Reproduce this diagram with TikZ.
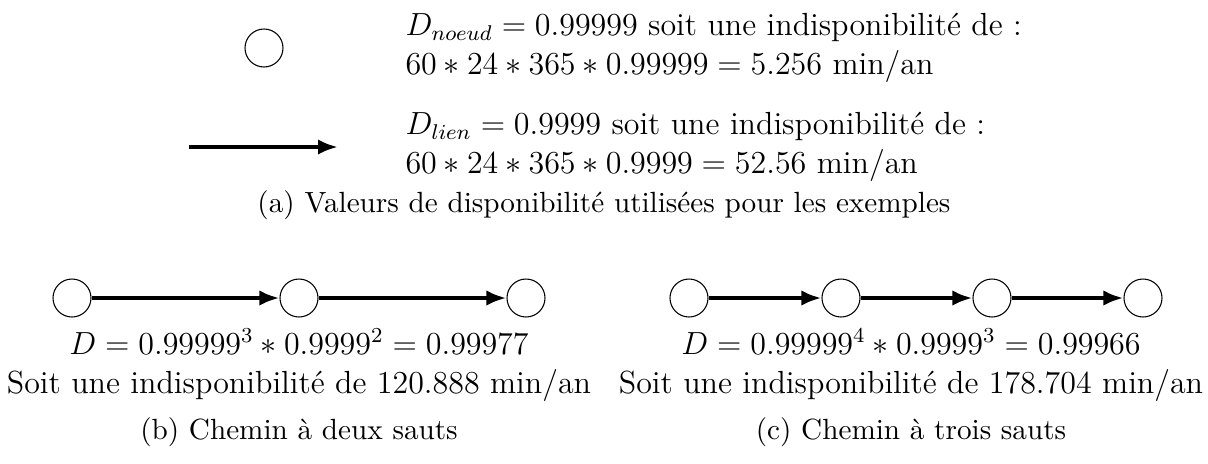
\documentclass[tikz,border=0pt]{standalone}
\usepackage{fontspec}
\usepackage{tikz}
\usetikzlibrary{positioning,arrows.meta}

\begin{document}
\begin{tikzpicture}[x=.375pt,y=-.375pt,font=\fontsize{12}{14.5}\selectfont,
  noeud/.style={draw,circle,line width=.4pt,inner sep=0pt,minimum size=14.25pt},
  lien/.style={-{Latex[length=7.5pt,width=5.8pt]},line width=1.6pt},
  txt/.style={inner sep=0pt,align=left},
  texte/.style={inner sep=0pt,align=center},
  legende/.style={inner sep=0pt,align=center,font=\fontsize{10.95}{13.6}\selectfont}]
\useasboundingbox (0,0) rectangle (1208,463);
% (a) valeurs
\node[noeud] (n) at (264,48){};
\coordinate (l0) at (189,147);\coordinate (l1) at (338,147);
\draw[lien] (l0)--(l1);
\node[txt,anchor=west] (tn) at (405,48){$D_{noeud} = 0.99999$ soit une indisponibilit\'e de :\\$60*24*365*0.99999 = 5.256$ min/an};
\node[txt,anchor=west] (tl) at (405,147){$D_{lien} = 0.9999$ soit une indisponibilit\'e de :\\$60*24*365*0.9999 = 52.56$ min/an};
\node[legende] (ca) at (604,205){(a) Valeurs de disponibilit\'e utilis\'ees pour les exemples};
% (b) deux sauts
\node[noeud] (b1) at (72,298){};\node[noeud] (b2) at (299,298){};\node[noeud] (b3) at (526,298){};
\draw[lien] (b1)--(b2);\draw[lien] (b2)--(b3);
\node[texte] (tb) at (299,365){$D = 0.99999^3 * 0.9999^2 = 0.99977$\\Soit une indisponibilit\'e de 120.888 min/an};
\node[legende] (cb) at (299,432){(b) Chemin \`a deux sauts};
% (c) trois sauts
\node[noeud] (c1) at (689,298){};\node[noeud] (c2) at (841,298){};\node[noeud] (c3) at (992,298){};\node[noeud] (c4) at (1143,298){};
\draw[lien] (c1)--(c2);\draw[lien] (c2)--(c3);\draw[lien] (c3)--(c4);
\node[texte] (tc) at (911,365){$D = 0.99999^4 * 0.9999^3 = 0.99966$\\Soit une indisponibilit\'e de 178.704 min/an};
\node[legende] (cc) at (911,432){(c) Chemin \`a trois sauts};
\end{tikzpicture}
\end{document}
